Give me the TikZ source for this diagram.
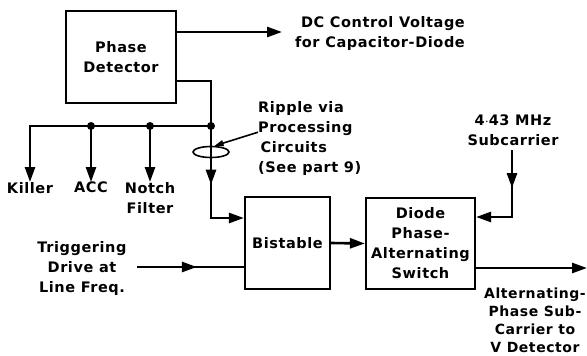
\documentclass[tikz,border=0pt]{standalone}
\usepackage{fontspec}
\setmainfont{DejaVu Sans}[LetterSpace=4]
\usetikzlibrary{arrows.meta,shapes.geometric,decorations.markings}

\begin{document}
\begin{tikzpicture}[
        x=1pt, y=-1pt,
        font=\fontsize{14.5}{20}\selectfont\bfseries,
        block/.style={rectangle, draw, line width=2.2pt, inner sep=0pt, align=center},
        label/.style={inner sep=0pt, align=center},
        wire/.style={line width=2.6pt},
        arr/.style={wire, -{Triangle[length=15pt,width=10pt]}},
        midarr/.style={postaction={decorate}, decoration={markings,
            mark=at position #1 with {\arrow{Triangle[length=15pt,width=10pt]}}}},
        junction/.style={circle, fill, inner sep=0pt, minimum size=8pt},
    ]
        \useasboundingbox (0,0) rectangle (587,356);

        % Blocks
        \node[block, minimum width=110pt, minimum height=92pt] (pd) at (121,57) {Phase\\Detector};
        \node[block, minimum width=85pt, minimum height=92pt] (bis) at (287.5,243) {Bistable};
        \node[block, minimum width=109pt, minimum height=91pt] (sw) at (420.5,243.5) {Diode\\Phase-\\Alternating\\Switch};

        % Texts
        \node[label, align=right, anchor=east] (dc) at (465,33) {DC Control Voltage\\for Capacitor-Diode};
        \node[label, align=left, anchor=north west] (ripple) at (258,101) {Ripple via\\Processing\\\,Circuits\\(See part 9)};
        \node[label, anchor=south] (sub) at (513,146) {4$\cdot$43 MHz\\Subcarrier};
        \node[label] (trig) at (82,268) {Triggering\\Drive at\\Line Freq.};
        \node[label, anchor=north] (killer) at (30,182) {Killer};
        \node[label, anchor=north] (acc) at (91,182) {ACC};
        \node[label, anchor=north] (notch) at (150,182) {Notch\\Filter};
        \node[label, anchor=north, font=\fontsize{14}{18}\selectfont\bfseries] (vout) at (535,288) {Alternating-\\Phase Sub-\\Carrier to\\V Detector};

        % Junctions and ring
        \node[junction] (tap) at (211,126) {};
        \node[junction] (tapb) at (150,126) {};
        \node[junction] (tapa) at (91,126) {};
        \node[draw, ellipse, line width=1.6pt, minimum width=36pt, minimum height=11pt, inner sep=0pt] (ring) at (211,152) {};

        \coordinate (dcend) at (282,32);
        \coordinate (trigin) at (137,267);
        \coordinate (outend) at (587,268);
        \coordinate (subin) at (512,150);

        % Connectors
        \draw[arr] (pd.east |- dcend) -- (dcend);
        \draw[wire, midarr=0.675, -{Triangle[length=15pt,width=10pt]}]
            ([yshift=-24pt]pd.east) -| (tap.center) -- (211,218) -- (bis.west |- 0,218);
        \draw[arr] (tap.center) -| (killer.north);
        \draw[arr] (tapa.center) -- (acc.north);
        \draw[arr] (tapb.center) -- (notch.north);
        \draw[wire, midarr=0.56, -] (trigin) -- (trigin -| bis.west);
        \draw[arr] (bis.east) -- (sw.west);
        \draw[wire, midarr=0.37, -{Triangle[length=15pt,width=10pt]}]
            (subin) -- (512,217) -- (sw.east |- 0,217);
        \draw[arr] (outend -| sw.east) -- (outend);
        \draw[line width=1.6pt, -{Triangle[length=9pt,width=6pt]}] ([yshift=6pt]ripple.west) -- (ring.60);

\end{tikzpicture}
\end{document}
